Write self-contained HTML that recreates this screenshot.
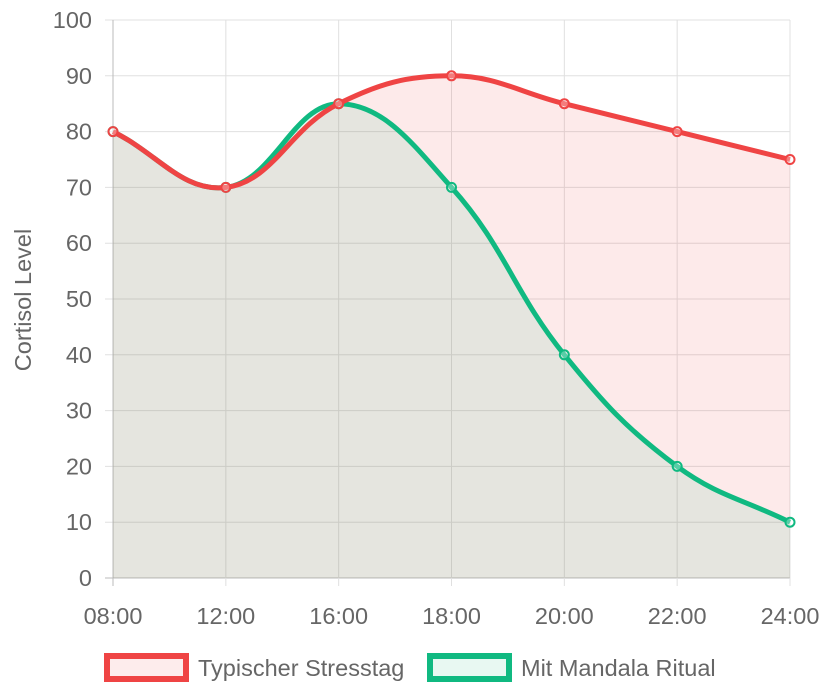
<!DOCTYPE html>
<html><head><meta charset="utf-8"><style>
html,body{margin:0;padding:0;background:#fff;}
svg{display:block;font-family:"Liberation Sans",Helvetica,Arial,sans-serif;}
</style></head><body>
<svg id="chart" width="826" height="700"></svg>
<script>
const categories=["08:00","12:00","16:00","18:00","20:00","22:00","24:00"];
const stressValues=[80,70,85,90,85,80,75];
const ritualValues=[80,70,85,70,40,20,10];
const yTicks=[0,10,20,30,40,50,60,70,80,90,100];
const seriesNames=["Typischer Stresstag","Mit Mandala Ritual"];

const NS="http://www.w3.org/2000/svg";
const svg=document.getElementById('chart');
const L=113,R=790,T=20,B=578;
const FS=23.5;
const xAt=i=>L+i*(R-L)/(categories.length-1);
const yAt=v=>B-v*(B-T)/100;
function el(tag,attrs,parent){const e=document.createElementNS(NS,tag);for(const k in attrs)e.setAttribute(k,attrs[k]);(parent||svg).appendChild(e);return e;}

yTicks.forEach(v=>{
  const g=el('line',{x1:L-8,x2:R,y1:yAt(v),y2:yAt(v),stroke:v===0?'#bbb':'#e0e0e0','stroke-width':1});
  
  
  const t=el('text',{x:L-21,y:yAt(v)+8,'text-anchor':'end','font-size':FS,fill:'#666'});
  t.textContent=v;
  
  
});
categories.forEach((c,i)=>{
  const g=el('line',{x1:xAt(i),x2:xAt(i),y1:T,y2:B+8,stroke:i===0?'#bbb':'#e0e0e0','stroke-width':1});
  
  
  const t=el('text',{x:xAt(i),y:B+46,'text-anchor':'middle','font-size':FS,fill:'#666'});
  t.textContent=c;
  
  
});
const yt=el('text',{x:0,y:0,transform:'translate(31,300) rotate(-90)','text-anchor':'middle','font-size':FS,fill:'#666'});
yt.textContent="Cortisol Level";



function curvePath(vals){
  const pts=vals.map((v,i)=>({x:xAt(i),y:yAt(v)}));
  const t=0.4;const cps=[];
  pts.forEach((p,i)=>{
    const pr=pts[i-1]||p,nx=pts[i+1]||p;
    const d01=Math.hypot(p.x-pr.x,p.y-pr.y),d12=Math.hypot(nx.x-p.x,nx.y-p.y);
    let s01=d01/(d01+d12),s12=d12/(d01+d12);
    if(isNaN(s01))s01=0;if(isNaN(s12))s12=0;
    const fa=t*s01,fb=t*s12;
    const c1={x:p.x-fa*(nx.x-pr.x),y:p.y-fa*(nx.y-pr.y)};
    const c2={x:p.x+fb*(nx.x-pr.x),y:p.y+fb*(nx.y-pr.y)};
    [c1,c2].forEach(c=>{c.y=Math.max(T,Math.min(B,c.y));c.x=Math.max(L,Math.min(R,c.x));});
    cps.push([c1,c2]);
  });
  let d=`M${pts[0].x},${pts[0].y}`;
  for(let i=1;i<pts.length;i++){d+=` C${cps[i-1][1].x},${cps[i-1][1].y} ${cps[i][0].x},${cps[i][0].y} ${pts[i].x},${pts[i].y}`;}
  return {d,pts};
}
const series=[
  {vals:stressValues,stroke:'#ef4444',fill:'rgba(239,68,68,0.11)',name:'stress'},
  {vals:ritualValues,stroke:'#10b981',fill:'rgba(16,185,129,0.10)',name:'ritual'}
];
series.forEach(s=>{
  const c=curvePath(s.vals);
  const a=el('path',{d:c.d+` L${xAt(s.vals.length-1)},${B} L${L},${B} Z`,fill:s.fill});
  
  
});
series.slice().reverse().forEach(s=>{
  const c=curvePath(s.vals);
  const l=el('path',{d:c.d,fill:'none',stroke:s.stroke,'stroke-width':5});
  
  
  c.pts.forEach(p=>{
    const pt=el('circle',{cx:p.x,cy:p.y,r:4.5,fill:'rgba(255,255,255,0.3)',stroke:s.stroke,'stroke-width':2});
    
    
  });
});
const leg=[{x:104,stroke:'#ef4444',fill:'#fdecec'},{x:427,stroke:'#10b981',fill:'#e8f8f2'}];
leg.forEach((g,i)=>{
  const r=el('rect',{x:g.x+3,y:656,width:79,height:23,fill:g.fill,stroke:g.stroke,'stroke-width':6});
  
  
  const t=el('text',{x:g.x+94,y:676,'font-size':FS,fill:'#666'});
  t.textContent=seriesNames[i];
  
  
});
</script>
</body></html>
